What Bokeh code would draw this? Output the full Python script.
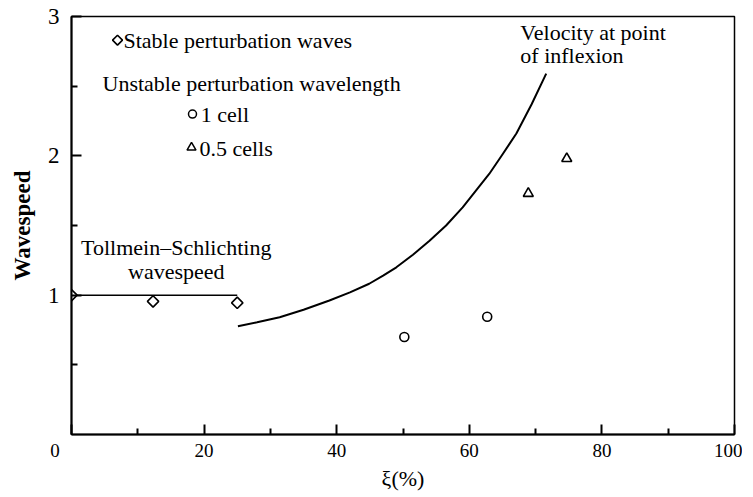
from bokeh.plotting import figure
from bokeh.models import Range1d, FixedTicker
from bokeh.core.properties import value
from bokeh.embed import file_html
from bokeh.resources import INLINE
import math

# ---- data ----
stable_x = [0.0, 12.3, 25.0]
stable_y = [1.0, 0.955, 0.945]

cell1_x = [50.2, 62.7]
cell1_y = [0.70, 0.845]

cell05_x = [68.9, 74.7]
cell05_y = [1.73, 1.98]

ts_x = [0.0, 25.0]
ts_y = [1.0, 1.0]

inflex_x = [25.1, 28.0, 31.4, 35.0, 38.9, 42.0, 44.9, 47.0, 49.0, 51.5, 54.0, 56.5, 59.0, 61.0, 63.0, 65.0, 67.1, 69.4, 71.6]
inflex_y = [0.777, 0.805, 0.842, 0.895, 0.962, 1.02, 1.082, 1.14, 1.20, 1.29, 1.39, 1.50, 1.63, 1.75, 1.87, 2.01, 2.16, 2.37, 2.59]

x_ticks = [0, 20, 40, 60, 80, 100]
y_ticks = [1, 2, 3]

SERIF = "Liberation Serif"
NBSP = "\u00a0"

p = figure(frame_width=663, frame_height=418, output_backend="svg", toolbar_location=None,
           x_range=Range1d(0, 100), y_range=Range1d(0, 3),
           min_border_left=71, min_border_right=8, min_border_top=16, min_border_bottom=50)
p.grid.visible = False
p.outline_line_color = "black"
p.outline_line_width = 1.5
p.background_fill_color = "white"
p.border_fill_color = "white"

# axes
for ax in (p.xaxis[0], p.yaxis[0]):
    ax.axis_line_width = 2
    ax.major_tick_in = 10
    ax.major_tick_out = 0
    ax.minor_tick_in = 6
    ax.minor_tick_out = 0
    ax.major_tick_line_width = 2
    ax.minor_tick_line_width = 2
    ax.major_label_text_font = SERIF
    ax.axis_label_text_font = SERIF
    ax.major_label_text_color = "black"
    ax.axis_label_text_color = "black"

p.xaxis.ticker = FixedTicker(ticks=x_ticks, minor_ticks=[10, 30, 50, 70, 90])
# the shared origin label sits left of the corner in the reference
p.xaxis.major_label_overrides = {0: "0" + NBSP * 7}
p.xaxis.major_label_text_font_size = "19px"
p.xaxis.major_label_standoff = 5
p.xaxis.axis_label = "ξ(%)"
p.xaxis.axis_label_text_font_size = "22px"
p.xaxis.axis_label_text_font_style = "normal"
p.xaxis.axis_label_standoff = 2

p.yaxis.ticker = FixedTicker(ticks=y_ticks, minor_ticks=[0.5, 1.5, 2.5])
p.yaxis.major_label_text_font_size = "23px"
p.yaxis.major_label_standoff = 12
p.yaxis.major_label_orientation = "horizontal"
p.yaxis.axis_label = "Wavespeed"
p.yaxis.axis_label_text_font_size = "23px"
p.yaxis.axis_label_text_font_style = "bold"
p.yaxis.axis_label_standoff = 10

# lines
p.line(ts_x, ts_y, line_color="black", line_width=1.5)
p.line(inflex_x, inflex_y, line_color="black", line_width=2, line_join="round")

# points
p.scatter(stable_x, stable_y, marker="square", angle=math.pi / 4, size=8,
          fill_color="white", line_color="black", line_width=1.6)
p.scatter(cell1_x, cell1_y, marker="circle", size=9,
          fill_color="white", line_color="black", line_width=1.6)
p.scatter(cell05_x, cell05_y, marker="triangle", size=10,
          fill_color="white", line_color="black", line_width=1.6)

# key markers
p.scatter([6.94], [2.83], marker="square", angle=math.pi / 4, size=7,
          fill_color="white", line_color="black", line_width=1.6)
p.scatter([18.25], [2.30], marker="circle", size=8,
          fill_color="white", line_color="black", line_width=1.5)
p.scatter([18.1], [2.06], marker="triangle", size=9,
          fill_color="white", line_color="black", line_width=1.5)

# texts
def txt(x, y, s, align="left"):
    p.text([x], [y], text=[s], text_font=value(SERIF), text_font_size="22px",
           text_align=align, text_baseline="middle", text_color="black")

txt(7.84, 2.83, "Stable perturbation waves")
txt(4.68, 2.52, "Unstable perturbation wavelength")
txt(19.5, 2.30, "1 cell")
txt(19.3, 2.05, "0.5 cells")
txt(15.8, 1.342, "Tollmein–Schlichting", "center")
txt(15.8, 1.17, "wavespeed", "center")
txt(67.7, 2.886, "Velocity at point")
txt(67.7, 2.72, "of inflexion")

open("out.html", "w").write(file_html(p, INLINE))
